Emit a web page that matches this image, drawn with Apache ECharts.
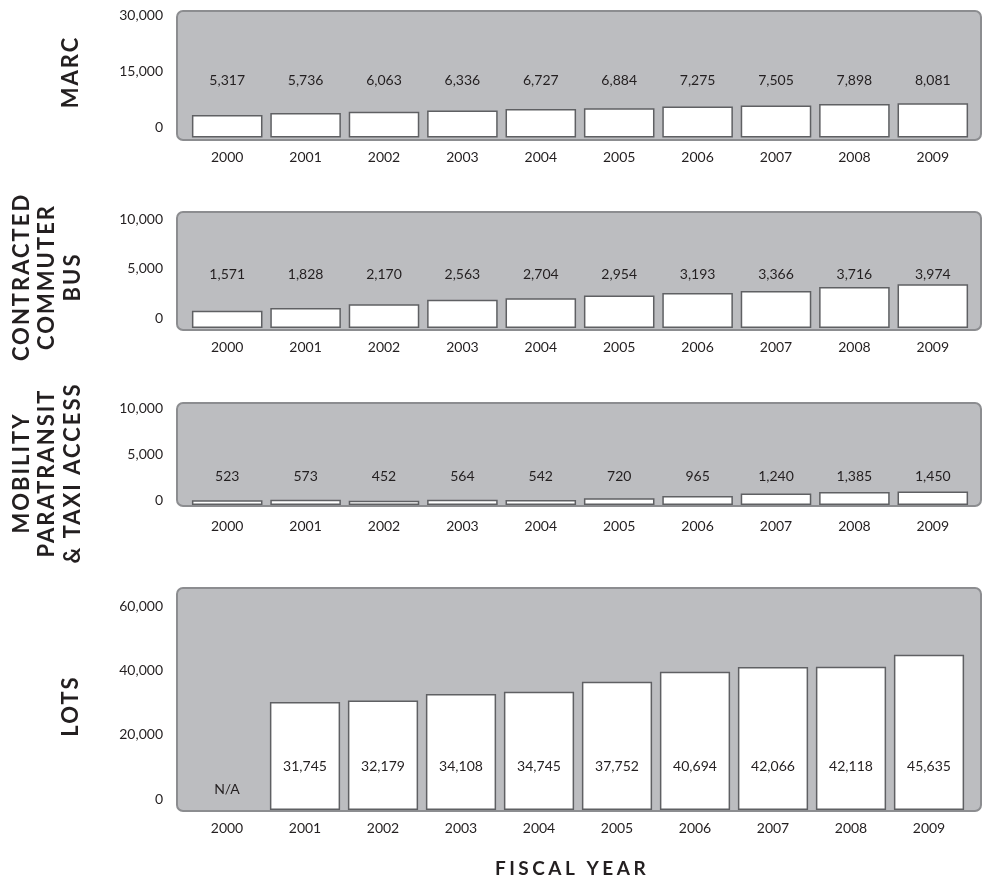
<!DOCTYPE html>
<html><head><meta charset="utf-8">
<script src="https://cdn.jsdelivr.net/npm/echarts@6/dist/echarts.min.js"></script>
<style>html,body{margin:0;padding:0;background:#fff}#c{width:986px;height:880px}</style>
</head><body><div id="c"></div>
<script>
// ---- data ----
const years = ['2000','2001','2002','2003','2004','2005','2006','2007','2008','2009'];
const marcValues = [5317,5736,6063,6336,6727,6884,7275,7505,7898,8081];
const busValues = [1571,1828,2170,2563,2704,2954,3193,3366,3716,3974];
const mobilityValues = [523,573,452,564,542,720,965,1240,1385,1450];
const lotsValues = [null,31745,32179,34108,34745,37752,40694,42066,42118,45635];
const marcTicks = [0,15000,30000];
const busTicks = [0,5000,10000];
const mobilityTicks = [0,5000,10000];
const lotsTicks = [0,20000,40000,60000];
const panelTitles = ['MARC','CONTRACTED\nCOMMUTER\nBUS','MOBILITY\nPARATRANSIT\n& TAXI ACCESS','LOTS'];
const axisTitle = 'FISCAL YEAR';
const missingLabel = 'N/A';

// letter spacing for the heading fonts only (canvas)
(function(){
  const P = CanvasRenderingContext2D.prototype, f = P.fillText;
  P.fillText = function(t,x,y,m){
    try {
      const fnt = this.font;
      this.letterSpacing = /\b19px/.test(fnt) ? '3.5px' : (/\b22px/.test(fnt) ? '2px' : '0px');
    } catch(e){}
    return m === undefined ? f.call(this,t,x,y) : f.call(this,t,x,y,m);
  };
})();

// ---- layout ----
const panels = [
  {values: marcValues, ticks: marcTicks, box:[177,11,981,140], barTop:10, barBottom:137.5, tickTop:15, tickBottom:127, right:14, labelDist:50.5, yearMargin:12.5, titleX:71, titleY:72},
  {values: busValues, ticks: busTicks, box:[177,212,981,330], barTop:218, barBottom:328, tickTop:219, tickBottom:318, right:14, labelDist:47, yearMargin:12, titleX:47, titleY:277},
  {values: mobilityValues, ticks: mobilityTicks, box:[177,403,981,506], barTop:412, barBottom:505, tickTop:408, tickBottom:500, right:14, labelDist:22, yearMargin:14, titleX:47, titleY:473},
  {values: lotsValues, ticks: lotsTicks, box:[177,588,981,811], barTop:606, barBottom:810, tickTop:606, tickBottom:799, right:18, labelDist:37, yearMargin:11, titleX:71, titleY:706}
];
const LEFT = 188;
const TXT = '#231f20';
const numFont = 'Lato';
const fmt = v => Number(v).toLocaleString('en-US');

const grid = [], xAxis = [], yAxis = [], series = [], graphic = [];
panels.forEach((p, i) => {
  const gb = grid.length;
  grid.push({left: LEFT, right: p.right, top: p.barTop, height: p.barBottom - p.barTop});
  grid.push({left: LEFT, right: p.right, top: p.tickTop, height: p.tickBottom - p.tickTop});
  const tmin = p.ticks[0], tmax = p.ticks[p.ticks.length-1], step = p.ticks[1]-p.ticks[0];
  xAxis.push({gridIndex: gb, type:'category', data: years,
    axisLine:{show:false}, axisTick:{show:false},
    axisLabel:{color:TXT, fontFamily:numFont, fontSize:14, margin:p.yearMargin}});
  yAxis.push({gridIndex: gb, type:'value', min:tmin, max:tmax, show:false, splitLine:{show:false}});
  xAxis.push({gridIndex: gb+1, type:'category', data: years, show:false});
  yAxis.push({gridIndex: gb+1, type:'value', min:tmin, max:tmax, interval:step,
    axisLine:{show:false}, axisTick:{show:false}, splitLine:{show:false},
    axisLabel:{color:TXT, fontFamily:numFont, fontSize:14, margin:25, formatter: v => fmt(v)}});
  const data = p.values.map(v => v == null
    ? {value:0, itemStyle:{color:'rgba(0,0,0,0)', borderWidth:0}, label:{distance:14, formatter: missingLabel}}
    : v);
  series.push({type:'bar', xAxisIndex: gb, yAxisIndex: gb, data, barWidth:'90%',
    itemStyle:{color:'#ffffff', borderColor:'#5f6063', borderWidth:1.5},
    label:{show:true, position:'insideBottom', distance:p.labelDist, color:TXT, fontFamily:numFont, fontSize:14,
      textBorderWidth:0, formatter: prm => fmt(prm.value)},
    silent:true, animation:false});
  const b = p.box;
  graphic.push({type:'rect', z:-10, shape:{x:b[0], y:b[1], width:b[2]-b[0], height:b[3]-b[1], r:6},
    style:{fill:'#bcbdc0', stroke:'#8c8d90', lineWidth:2}});
  graphic.push({type:'text', x:p.titleX, y:p.titleY, rotation:Math.PI/2,
    style:{text:panelTitles[i], font:'bold 22px Lato', fill:TXT, align:'center', verticalAlign:'middle', lineHeight:25.5}});
});
graphic.push({type:'text', x:572, y:869, style:{text:axisTitle, font:'bold 19px Lato', fill:TXT, align:'center', verticalAlign:'middle'}});

const chart = echarts.init(document.getElementById('c'), null, {renderer:'canvas'});
chart.setOption({animation:false, backgroundColor:'#ffffff', grid, xAxis, yAxis, series, graphic});
</script></body></html>
